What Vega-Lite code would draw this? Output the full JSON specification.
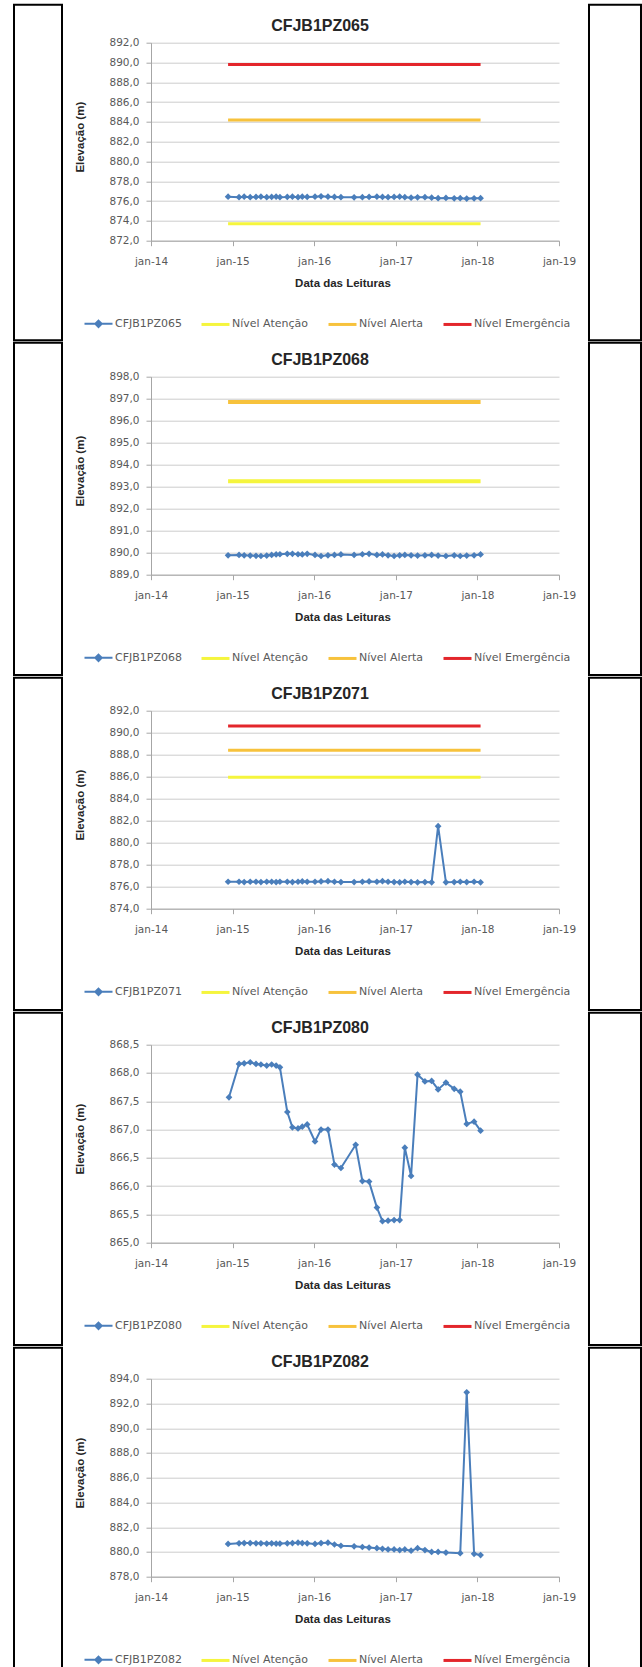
{
  "$schema": "https://vega.github.io/schema/vega-lite/v6.json",
  "background": "white",
  "padding": {"left": 13, "top": 2.7, "right": 0, "bottom": 0},
  "spacing": 11,
  "resolve": {"scale": {"color": "independent"}, "legend": {"color": "independent"}},
  "datasets": {
    "pz065": [
      {"serie":"CFJB1PZ065","data":"2014-12-12","elev":876.45},{"serie":"CFJB1PZ065","data":"2015-01-30","elev":876.40},{"serie":"CFJB1PZ065","data":"2015-02-22","elev":876.45},{"serie":"CFJB1PZ065","data":"2015-03-21","elev":876.40},{"serie":"CFJB1PZ065","data":"2015-04-16","elev":876.42},{"serie":"CFJB1PZ065","data":"2015-05-08","elev":876.45},{"serie":"CFJB1PZ065","data":"2015-06-03","elev":876.40},{"serie":"CFJB1PZ065","data":"2015-06-25","elev":876.42},{"serie":"CFJB1PZ065","data":"2015-07-15","elev":876.45},{"serie":"CFJB1PZ065","data":"2015-08-01","elev":876.40},
      {"serie":"CFJB1PZ065","data":"2015-09-03","elev":876.42},{"serie":"CFJB1PZ065","data":"2015-09-26","elev":876.45},{"serie":"CFJB1PZ065","data":"2015-10-21","elev":876.40},{"serie":"CFJB1PZ065","data":"2015-11-09","elev":876.45},{"serie":"CFJB1PZ065","data":"2015-12-01","elev":876.42},{"serie":"CFJB1PZ065","data":"2016-01-05","elev":876.45},{"serie":"CFJB1PZ065","data":"2016-02-01","elev":876.48},{"serie":"CFJB1PZ065","data":"2016-03-03","elev":876.45},{"serie":"CFJB1PZ065","data":"2016-04-01","elev":876.42},{"serie":"CFJB1PZ065","data":"2016-04-30","elev":876.40},
      {"serie":"CFJB1PZ065","data":"2016-06-28","elev":876.38},{"serie":"CFJB1PZ065","data":"2016-08-04","elev":876.40},{"serie":"CFJB1PZ065","data":"2016-09-03","elev":876.42},{"serie":"CFJB1PZ065","data":"2016-10-08","elev":876.45},{"serie":"CFJB1PZ065","data":"2016-11-02","elev":876.42},{"serie":"CFJB1PZ065","data":"2016-11-27","elev":876.40},{"serie":"CFJB1PZ065","data":"2016-12-24","elev":876.42},{"serie":"CFJB1PZ065","data":"2017-01-18","elev":876.45},{"serie":"CFJB1PZ065","data":"2017-02-10","elev":876.40},{"serie":"CFJB1PZ065","data":"2017-03-10","elev":876.35},
      {"serie":"CFJB1PZ065","data":"2017-04-08","elev":876.38},{"serie":"CFJB1PZ065","data":"2017-05-11","elev":876.40},{"serie":"CFJB1PZ065","data":"2017-06-10","elev":876.35},{"serie":"CFJB1PZ065","data":"2017-07-09","elev":876.30},{"serie":"CFJB1PZ065","data":"2017-08-13","elev":876.32},{"serie":"CFJB1PZ065","data":"2017-09-19","elev":876.28},{"serie":"CFJB1PZ065","data":"2017-10-16","elev":876.30},{"serie":"CFJB1PZ065","data":"2017-11-14","elev":876.25},{"serie":"CFJB1PZ065","data":"2017-12-17","elev":876.28},{"serie":"CFJB1PZ065","data":"2018-01-15","elev":876.30},
      {"serie":"Nível Atenção","data":"2014-12-12","elev":873.7},{"serie":"Nível Atenção","data":"2018-01-15","elev":873.7},
      {"serie":"Nível Alerta","data":"2014-12-12","elev":884.2},{"serie":"Nível Alerta","data":"2018-01-15","elev":884.2},
      {"serie":"Nível Emergência","data":"2014-12-12","elev":889.8},{"serie":"Nível Emergência","data":"2018-01-15","elev":889.8}
    ],
    "pz068": [
      {"serie":"CFJB1PZ068","data":"2014-12-12","elev":889.88},{"serie":"CFJB1PZ068","data":"2015-01-30","elev":889.90},{"serie":"CFJB1PZ068","data":"2015-02-22","elev":889.88},{"serie":"CFJB1PZ068","data":"2015-03-21","elev":889.87},{"serie":"CFJB1PZ068","data":"2015-04-16","elev":889.86},{"serie":"CFJB1PZ068","data":"2015-05-08","elev":889.85},{"serie":"CFJB1PZ068","data":"2015-06-03","elev":889.87},{"serie":"CFJB1PZ068","data":"2015-06-25","elev":889.90},{"serie":"CFJB1PZ068","data":"2015-07-15","elev":889.92},{"serie":"CFJB1PZ068","data":"2015-08-01","elev":889.93},
      {"serie":"CFJB1PZ068","data":"2015-09-03","elev":889.95},{"serie":"CFJB1PZ068","data":"2015-09-26","elev":889.95},{"serie":"CFJB1PZ068","data":"2015-10-21","elev":889.93},{"serie":"CFJB1PZ068","data":"2015-11-09","elev":889.92},{"serie":"CFJB1PZ068","data":"2015-12-01","elev":889.95},{"serie":"CFJB1PZ068","data":"2016-01-05","elev":889.90},{"serie":"CFJB1PZ068","data":"2016-02-01","elev":889.85},{"serie":"CFJB1PZ068","data":"2016-03-03","elev":889.88},{"serie":"CFJB1PZ068","data":"2016-04-01","elev":889.90},{"serie":"CFJB1PZ068","data":"2016-04-30","elev":889.92},
      {"serie":"CFJB1PZ068","data":"2016-06-28","elev":889.90},{"serie":"CFJB1PZ068","data":"2016-08-04","elev":889.93},{"serie":"CFJB1PZ068","data":"2016-09-03","elev":889.95},{"serie":"CFJB1PZ068","data":"2016-10-08","elev":889.90},{"serie":"CFJB1PZ068","data":"2016-11-02","elev":889.92},{"serie":"CFJB1PZ068","data":"2016-11-27","elev":889.88},{"serie":"CFJB1PZ068","data":"2016-12-24","elev":889.85},{"serie":"CFJB1PZ068","data":"2017-01-18","elev":889.88},{"serie":"CFJB1PZ068","data":"2017-02-10","elev":889.90},{"serie":"CFJB1PZ068","data":"2017-03-10","elev":889.88},
      {"serie":"CFJB1PZ068","data":"2017-04-08","elev":889.87},{"serie":"CFJB1PZ068","data":"2017-05-11","elev":889.88},{"serie":"CFJB1PZ068","data":"2017-06-10","elev":889.90},{"serie":"CFJB1PZ068","data":"2017-07-09","elev":889.87},{"serie":"CFJB1PZ068","data":"2017-08-13","elev":889.85},{"serie":"CFJB1PZ068","data":"2017-09-19","elev":889.88},{"serie":"CFJB1PZ068","data":"2017-10-16","elev":889.85},{"serie":"CFJB1PZ068","data":"2017-11-14","elev":889.87},{"serie":"CFJB1PZ068","data":"2017-12-17","elev":889.88},{"serie":"CFJB1PZ068","data":"2018-01-15","elev":889.92},
      {"serie":"Nível Atenção","data":"2014-12-12","elev":893.25},{"serie":"Nível Atenção","data":"2018-01-15","elev":893.25},
      {"serie":"Nível Alerta","data":"2014-12-12","elev":896.85},{"serie":"Nível Alerta","data":"2018-01-15","elev":896.85}
    ],
    "pz071": [
      {"serie":"CFJB1PZ071","data":"2014-12-12","elev":876.45},{"serie":"CFJB1PZ071","data":"2015-01-30","elev":876.45},{"serie":"CFJB1PZ071","data":"2015-02-22","elev":876.42},{"serie":"CFJB1PZ071","data":"2015-03-21","elev":876.45},{"serie":"CFJB1PZ071","data":"2015-04-16","elev":876.45},{"serie":"CFJB1PZ071","data":"2015-05-08","elev":876.42},{"serie":"CFJB1PZ071","data":"2015-06-03","elev":876.45},{"serie":"CFJB1PZ071","data":"2015-06-25","elev":876.45},{"serie":"CFJB1PZ071","data":"2015-07-15","elev":876.42},{"serie":"CFJB1PZ071","data":"2015-08-01","elev":876.45},
      {"serie":"CFJB1PZ071","data":"2015-09-03","elev":876.45},{"serie":"CFJB1PZ071","data":"2015-09-26","elev":876.42},{"serie":"CFJB1PZ071","data":"2015-10-21","elev":876.45},{"serie":"CFJB1PZ071","data":"2015-11-09","elev":876.48},{"serie":"CFJB1PZ071","data":"2015-12-01","elev":876.45},{"serie":"CFJB1PZ071","data":"2016-01-05","elev":876.45},{"serie":"CFJB1PZ071","data":"2016-02-01","elev":876.48},{"serie":"CFJB1PZ071","data":"2016-03-03","elev":876.50},{"serie":"CFJB1PZ071","data":"2016-04-01","elev":876.45},{"serie":"CFJB1PZ071","data":"2016-04-30","elev":876.42},
      {"serie":"CFJB1PZ071","data":"2016-06-28","elev":876.42},{"serie":"CFJB1PZ071","data":"2016-08-04","elev":876.45},{"serie":"CFJB1PZ071","data":"2016-09-03","elev":876.48},{"serie":"CFJB1PZ071","data":"2016-10-08","elev":876.45},{"serie":"CFJB1PZ071","data":"2016-11-02","elev":876.50},{"serie":"CFJB1PZ071","data":"2016-11-27","elev":876.45},{"serie":"CFJB1PZ071","data":"2016-12-24","elev":876.42},{"serie":"CFJB1PZ071","data":"2017-01-18","elev":876.40},{"serie":"CFJB1PZ071","data":"2017-02-10","elev":876.45},{"serie":"CFJB1PZ071","data":"2017-03-10","elev":876.42},
      {"serie":"CFJB1PZ071","data":"2017-04-08","elev":876.40},{"serie":"CFJB1PZ071","data":"2017-05-11","elev":876.42},{"serie":"CFJB1PZ071","data":"2017-06-10","elev":876.40},{"serie":"CFJB1PZ071","data":"2017-07-09","elev":881.50},{"serie":"CFJB1PZ071","data":"2017-08-13","elev":876.40},{"serie":"CFJB1PZ071","data":"2017-09-19","elev":876.42},{"serie":"CFJB1PZ071","data":"2017-10-16","elev":876.45},{"serie":"CFJB1PZ071","data":"2017-11-14","elev":876.42},{"serie":"CFJB1PZ071","data":"2017-12-17","elev":876.45},{"serie":"CFJB1PZ071","data":"2018-01-15","elev":876.40},
      {"serie":"Nível Atenção","data":"2014-12-12","elev":885.95},{"serie":"Nível Atenção","data":"2018-01-15","elev":885.95},
      {"serie":"Nível Alerta","data":"2014-12-12","elev":888.4},{"serie":"Nível Alerta","data":"2018-01-15","elev":888.4},
      {"serie":"Nível Emergência","data":"2014-12-12","elev":890.6},{"serie":"Nível Emergência","data":"2018-01-15","elev":890.6}
    ],
    "pz080": [
      {"serie":"CFJB1PZ080","data":"2014-12-16","elev":867.57},{"serie":"CFJB1PZ080","data":"2015-01-30","elev":868.16},{"serie":"CFJB1PZ080","data":"2015-02-22","elev":868.17},{"serie":"CFJB1PZ080","data":"2015-03-21","elev":868.19},{"serie":"CFJB1PZ080","data":"2015-04-16","elev":868.16},{"serie":"CFJB1PZ080","data":"2015-05-08","elev":868.15},{"serie":"CFJB1PZ080","data":"2015-06-03","elev":868.13},{"serie":"CFJB1PZ080","data":"2015-06-25","elev":868.15},{"serie":"CFJB1PZ080","data":"2015-07-15","elev":868.13},{"serie":"CFJB1PZ080","data":"2015-08-01","elev":868.10},
      {"serie":"CFJB1PZ080","data":"2015-09-03","elev":867.31},{"serie":"CFJB1PZ080","data":"2015-09-26","elev":867.04},{"serie":"CFJB1PZ080","data":"2015-10-21","elev":867.02},{"serie":"CFJB1PZ080","data":"2015-11-09","elev":867.05},{"serie":"CFJB1PZ080","data":"2015-12-01","elev":867.09},{"serie":"CFJB1PZ080","data":"2016-01-05","elev":866.79},{"serie":"CFJB1PZ080","data":"2016-02-01","elev":867.00},{"serie":"CFJB1PZ080","data":"2016-03-03","elev":867.00},{"serie":"CFJB1PZ080","data":"2016-04-01","elev":866.38},{"serie":"CFJB1PZ080","data":"2016-04-30","elev":866.32},
      {"serie":"CFJB1PZ080","data":"2016-07-05","elev":866.73},{"serie":"CFJB1PZ080","data":"2016-08-04","elev":866.09},{"serie":"CFJB1PZ080","data":"2016-09-03","elev":866.08},{"serie":"CFJB1PZ080","data":"2016-10-08","elev":865.62},{"serie":"CFJB1PZ080","data":"2016-11-02","elev":865.38},{"serie":"CFJB1PZ080","data":"2016-11-27","elev":865.39},{"serie":"CFJB1PZ080","data":"2016-12-24","elev":865.40},{"serie":"CFJB1PZ080","data":"2017-01-18","elev":865.40},{"serie":"CFJB1PZ080","data":"2017-02-10","elev":866.68},{"serie":"CFJB1PZ080","data":"2017-03-10","elev":866.18},
      {"serie":"CFJB1PZ080","data":"2017-04-08","elev":867.97},{"serie":"CFJB1PZ080","data":"2017-05-11","elev":867.85},{"serie":"CFJB1PZ080","data":"2017-06-10","elev":867.86},{"serie":"CFJB1PZ080","data":"2017-07-09","elev":867.71},{"serie":"CFJB1PZ080","data":"2017-08-13","elev":867.83},{"serie":"CFJB1PZ080","data":"2017-09-19","elev":867.72},{"serie":"CFJB1PZ080","data":"2017-10-16","elev":867.67},{"serie":"CFJB1PZ080","data":"2017-11-14","elev":867.10},{"serie":"CFJB1PZ080","data":"2017-12-17","elev":867.14},{"serie":"CFJB1PZ080","data":"2018-01-15","elev":866.98}
    ],
    "pz082": [
      {"serie":"CFJB1PZ082","data":"2014-12-12","elev":880.65},{"serie":"CFJB1PZ082","data":"2015-01-30","elev":880.70},{"serie":"CFJB1PZ082","data":"2015-02-22","elev":880.72},{"serie":"CFJB1PZ082","data":"2015-03-21","elev":880.72},{"serie":"CFJB1PZ082","data":"2015-04-16","elev":880.70},{"serie":"CFJB1PZ082","data":"2015-05-08","elev":880.70},{"serie":"CFJB1PZ082","data":"2015-06-03","elev":880.68},{"serie":"CFJB1PZ082","data":"2015-06-25","elev":880.70},{"serie":"CFJB1PZ082","data":"2015-07-15","elev":880.68},{"serie":"CFJB1PZ082","data":"2015-08-01","elev":880.68},
      {"serie":"CFJB1PZ082","data":"2015-09-03","elev":880.70},{"serie":"CFJB1PZ082","data":"2015-09-26","elev":880.72},{"serie":"CFJB1PZ082","data":"2015-10-21","elev":880.75},{"serie":"CFJB1PZ082","data":"2015-11-09","elev":880.72},{"serie":"CFJB1PZ082","data":"2015-12-01","elev":880.70},{"serie":"CFJB1PZ082","data":"2016-01-05","elev":880.65},{"serie":"CFJB1PZ082","data":"2016-02-01","elev":880.72},{"serie":"CFJB1PZ082","data":"2016-03-03","elev":880.75},{"serie":"CFJB1PZ082","data":"2016-04-01","elev":880.60},{"serie":"CFJB1PZ082","data":"2016-04-30","elev":880.50},
      {"serie":"CFJB1PZ082","data":"2016-06-28","elev":880.45},{"serie":"CFJB1PZ082","data":"2016-08-04","elev":880.40},{"serie":"CFJB1PZ082","data":"2016-09-03","elev":880.35},{"serie":"CFJB1PZ082","data":"2016-10-08","elev":880.30},{"serie":"CFJB1PZ082","data":"2016-11-02","elev":880.25},{"serie":"CFJB1PZ082","data":"2016-11-27","elev":880.20},{"serie":"CFJB1PZ082","data":"2016-12-24","elev":880.20},{"serie":"CFJB1PZ082","data":"2017-01-18","elev":880.15},{"serie":"CFJB1PZ082","data":"2017-02-10","elev":880.20},{"serie":"CFJB1PZ082","data":"2017-03-10","elev":880.10},
      {"serie":"CFJB1PZ082","data":"2017-04-08","elev":880.30},{"serie":"CFJB1PZ082","data":"2017-05-11","elev":880.15},{"serie":"CFJB1PZ082","data":"2017-06-10","elev":880.00},{"serie":"CFJB1PZ082","data":"2017-07-09","elev":880.00},{"serie":"CFJB1PZ082","data":"2017-08-13","elev":879.95},{"serie":"CFJB1PZ082","data":"2017-10-16","elev":879.90},{"serie":"CFJB1PZ082","data":"2017-11-14","elev":892.90},{"serie":"CFJB1PZ082","data":"2017-12-17","elev":879.85},{"serie":"CFJB1PZ082","data":"2018-01-15","elev":879.75}
    ]
  },
  "hconcat": [
    {
      "spacing": 0,
      "vconcat": [
        {"data": {"values": []}, "mark": "rect", "width": 48, "height": 1},
        {"data": {"values": []}, "mark": "rect", "width": 48, "height": 335.6, "view": {"stroke": "#000000", "strokeWidth": 2}},
        {"data": {"values": []}, "mark": "rect", "width": 48, "height": 332.4, "view": {"stroke": "#000000", "strokeWidth": 2}},
        {"data": {"values": []}, "mark": "rect", "width": 48, "height": 332.4, "view": {"stroke": "#000000", "strokeWidth": 2}},
        {"data": {"values": []}, "mark": "rect", "width": 48, "height": 332.4, "view": {"stroke": "#000000", "strokeWidth": 2}},
        {"data": {"values": []}, "mark": "rect", "width": 48, "height": 332.4, "view": {"stroke": "#000000", "strokeWidth": 2}}
      ]
    },
    {
      "spacing": 5.0,
      "resolve": {"scale": {"color": "independent"}, "legend": {"color": "independent"}},
      "vconcat": [
        {"data": {"values": []}, "mark": "rect", "width": 408, "height": 1},
        {
          "data": {"name": "pz065"},
          "width": 408, "height": 198,
          "title": {"text": ["", "CFJB1PZ065"]},
          "encoding": {
            "x": {"field": "data", "type": "temporal", "scale": {"type": "utc", "domain": [{"year": 2014, "month": 1, "date": 1, "utc": true}, {"year": 2019, "month": 1, "date": 1, "utc": true}]}, "axis": {"title": "Data das Leituras", "values": [{"year": 2014, "month": 1, "date": 1, "utc": true}, {"year": 2015, "month": 1, "date": 1, "utc": true}, {"year": 2016, "month": 1, "date": 1, "utc": true}, {"year": 2017, "month": 1, "date": 1, "utc": true}, {"year": 2018, "month": 1, "date": 1, "utc": true}, {"year": 2019, "month": 1, "date": 1, "utc": true}], "labelExpr": "'jan-' + utcFormat(datum.value, '%y')"}},
            "y": {"field": "elev", "type": "quantitative", "scale": {"domain": [872, 892], "zero": false, "nice": false}, "axis": {"title": "Elevação (m)", "values": [872, 874, 876, 878, 880, 882, 884, 886, 888, 890, 892], "labelExpr": "replace(format(datum.value, '.1f'), '.', ',')"}},
            "color": {"field": "serie", "type": "nominal", "scale": {"domain": ["CFJB1PZ065", "Nível Atenção", "Nível Alerta", "Nível Emergência"], "range": ["#4a7ebb", "#f5f53d", "#f7c23c", "#e3262b"]},
              "legend": {"encode": {"symbols": {"update": {
                "shape": {"signal": "indexof(['Nível Atenção','Nível Alerta','Nível Emergência'], datum.value) >= 0 ? 'M-1,0L1,0' : 'M-1,0L1,0M0,-0.23L0.23,0L0,0.23L-0.23,0Z'"},
                "fill": {"signal": "indexof(['Nível Atenção','Nível Alerta','Nível Emergência'], datum.value) >= 0 ? 'transparent' : '#4a7ebb'"},
                "stroke": {"signal": "datum.value == 'Nível Atenção' ? '#f5f53d' : datum.value == 'Nível Alerta' ? '#f7c23c' : datum.value == 'Nível Emergência' ? '#e3262b' : '#4a7ebb'"},
                "strokeWidth": {"signal": "indexof(['Nível Atenção','Nível Alerta','Nível Emergência'], datum.value) >= 0 ? 3 : 2"}
              }}}}}
          },
          "layer": [
            {"transform": [{"filter": "indexof(['Nível Atenção','Nível Alerta','Nível Emergência'], datum.serie) >= 0"}], "mark": {"type": "line", "strokeWidth": 3}},
            {"transform": [{"filter": "indexof(['Nível Atenção','Nível Alerta','Nível Emergência'], datum.serie) < 0"}], "mark": {"type": "line", "strokeWidth": 2, "point": {"shape": "diamond", "filled": true, "size": 45}}}
          ]
        },
        {
          "data": {"name": "pz068"},
          "width": 408, "height": 198,
          "title": {"text": ["", "CFJB1PZ068"]},
          "encoding": {
            "x": {"field": "data", "type": "temporal", "scale": {"type": "utc", "domain": [{"year": 2014, "month": 1, "date": 1, "utc": true}, {"year": 2019, "month": 1, "date": 1, "utc": true}]}, "axis": {"title": "Data das Leituras", "values": [{"year": 2014, "month": 1, "date": 1, "utc": true}, {"year": 2015, "month": 1, "date": 1, "utc": true}, {"year": 2016, "month": 1, "date": 1, "utc": true}, {"year": 2017, "month": 1, "date": 1, "utc": true}, {"year": 2018, "month": 1, "date": 1, "utc": true}, {"year": 2019, "month": 1, "date": 1, "utc": true}], "labelExpr": "'jan-' + utcFormat(datum.value, '%y')"}},
            "y": {"field": "elev", "type": "quantitative", "scale": {"domain": [889, 898], "zero": false, "nice": false}, "axis": {"title": "Elevação (m)", "values": [889, 890, 891, 892, 893, 894, 895, 896, 897, 898], "labelExpr": "replace(format(datum.value, '.1f'), '.', ',')"}},
            "color": {"field": "serie", "type": "nominal", "scale": {"domain": ["CFJB1PZ068", "Nível Atenção", "Nível Alerta", "Nível Emergência"], "range": ["#4a7ebb", "#f5f53d", "#f7c23c", "#e3262b"]},
              "legend": {"encode": {"symbols": {"update": {
                "shape": {"signal": "indexof(['Nível Atenção','Nível Alerta','Nível Emergência'], datum.value) >= 0 ? 'M-1,0L1,0' : 'M-1,0L1,0M0,-0.23L0.23,0L0,0.23L-0.23,0Z'"},
                "fill": {"signal": "indexof(['Nível Atenção','Nível Alerta','Nível Emergência'], datum.value) >= 0 ? 'transparent' : '#4a7ebb'"},
                "stroke": {"signal": "datum.value == 'Nível Atenção' ? '#f5f53d' : datum.value == 'Nível Alerta' ? '#f7c23c' : datum.value == 'Nível Emergência' ? '#e3262b' : '#4a7ebb'"},
                "strokeWidth": {"signal": "indexof(['Nível Atenção','Nível Alerta','Nível Emergência'], datum.value) >= 0 ? 3 : 2"}
              }}}}}
          },
          "layer": [
            {"transform": [{"filter": "indexof(['Nível Atenção','Nível Alerta','Nível Emergência'], datum.serie) >= 0"}], "mark": {"type": "line", "strokeWidth": 4}},
            {"transform": [{"filter": "indexof(['Nível Atenção','Nível Alerta','Nível Emergência'], datum.serie) < 0"}], "mark": {"type": "line", "strokeWidth": 2, "point": {"shape": "diamond", "filled": true, "size": 45}}}
          ]
        },
        {
          "data": {"name": "pz071"},
          "width": 408, "height": 198,
          "title": {"text": ["", "CFJB1PZ071"]},
          "encoding": {
            "x": {"field": "data", "type": "temporal", "scale": {"type": "utc", "domain": [{"year": 2014, "month": 1, "date": 1, "utc": true}, {"year": 2019, "month": 1, "date": 1, "utc": true}]}, "axis": {"title": "Data das Leituras", "values": [{"year": 2014, "month": 1, "date": 1, "utc": true}, {"year": 2015, "month": 1, "date": 1, "utc": true}, {"year": 2016, "month": 1, "date": 1, "utc": true}, {"year": 2017, "month": 1, "date": 1, "utc": true}, {"year": 2018, "month": 1, "date": 1, "utc": true}, {"year": 2019, "month": 1, "date": 1, "utc": true}], "labelExpr": "'jan-' + utcFormat(datum.value, '%y')"}},
            "y": {"field": "elev", "type": "quantitative", "scale": {"domain": [874, 892], "zero": false, "nice": false}, "axis": {"title": "Elevação (m)", "values": [874, 876, 878, 880, 882, 884, 886, 888, 890, 892], "labelExpr": "replace(format(datum.value, '.1f'), '.', ',')"}},
            "color": {"field": "serie", "type": "nominal", "scale": {"domain": ["CFJB1PZ071", "Nível Atenção", "Nível Alerta", "Nível Emergência"], "range": ["#4a7ebb", "#f5f53d", "#f7c23c", "#e3262b"]},
              "legend": {"encode": {"symbols": {"update": {
                "shape": {"signal": "indexof(['Nível Atenção','Nível Alerta','Nível Emergência'], datum.value) >= 0 ? 'M-1,0L1,0' : 'M-1,0L1,0M0,-0.23L0.23,0L0,0.23L-0.23,0Z'"},
                "fill": {"signal": "indexof(['Nível Atenção','Nível Alerta','Nível Emergência'], datum.value) >= 0 ? 'transparent' : '#4a7ebb'"},
                "stroke": {"signal": "datum.value == 'Nível Atenção' ? '#f5f53d' : datum.value == 'Nível Alerta' ? '#f7c23c' : datum.value == 'Nível Emergência' ? '#e3262b' : '#4a7ebb'"},
                "strokeWidth": {"signal": "indexof(['Nível Atenção','Nível Alerta','Nível Emergência'], datum.value) >= 0 ? 3 : 2"}
              }}}}}
          },
          "layer": [
            {"transform": [{"filter": "indexof(['Nível Atenção','Nível Alerta','Nível Emergência'], datum.serie) >= 0"}], "mark": {"type": "line", "strokeWidth": 3}},
            {"transform": [{"filter": "indexof(['Nível Atenção','Nível Alerta','Nível Emergência'], datum.serie) < 0"}], "mark": {"type": "line", "strokeWidth": 2, "point": {"shape": "diamond", "filled": true, "size": 45}}}
          ]
        },
        {
          "data": {"name": "pz080"},
          "width": 408, "height": 198,
          "title": {"text": ["", "CFJB1PZ080"]},
          "encoding": {
            "x": {"field": "data", "type": "temporal", "scale": {"type": "utc", "domain": [{"year": 2014, "month": 1, "date": 1, "utc": true}, {"year": 2019, "month": 1, "date": 1, "utc": true}]}, "axis": {"title": "Data das Leituras", "values": [{"year": 2014, "month": 1, "date": 1, "utc": true}, {"year": 2015, "month": 1, "date": 1, "utc": true}, {"year": 2016, "month": 1, "date": 1, "utc": true}, {"year": 2017, "month": 1, "date": 1, "utc": true}, {"year": 2018, "month": 1, "date": 1, "utc": true}, {"year": 2019, "month": 1, "date": 1, "utc": true}], "labelExpr": "'jan-' + utcFormat(datum.value, '%y')"}},
            "y": {"field": "elev", "type": "quantitative", "scale": {"domain": [865, 868.5], "zero": false, "nice": false}, "axis": {"title": "Elevação (m)", "values": [865, 865.5, 866, 866.5, 867, 867.5, 868, 868.5], "labelExpr": "replace(format(datum.value, '.1f'), '.', ',')"}},
            "color": {"field": "serie", "type": "nominal", "scale": {"domain": ["CFJB1PZ080", "Nível Atenção", "Nível Alerta", "Nível Emergência"], "range": ["#4a7ebb", "#f5f53d", "#f7c23c", "#e3262b"]},
              "legend": {"encode": {"symbols": {"update": {
                "shape": {"signal": "indexof(['Nível Atenção','Nível Alerta','Nível Emergência'], datum.value) >= 0 ? 'M-1,0L1,0' : 'M-1,0L1,0M0,-0.23L0.23,0L0,0.23L-0.23,0Z'"},
                "fill": {"signal": "indexof(['Nível Atenção','Nível Alerta','Nível Emergência'], datum.value) >= 0 ? 'transparent' : '#4a7ebb'"},
                "stroke": {"signal": "datum.value == 'Nível Atenção' ? '#f5f53d' : datum.value == 'Nível Alerta' ? '#f7c23c' : datum.value == 'Nível Emergência' ? '#e3262b' : '#4a7ebb'"},
                "strokeWidth": {"signal": "indexof(['Nível Atenção','Nível Alerta','Nível Emergência'], datum.value) >= 0 ? 3 : 2"}
              }}}}}
          },
          "layer": [
            {"mark": {"type": "line", "strokeWidth": 2, "point": {"shape": "diamond", "filled": true, "size": 45}}}
          ]
        },
        {
          "data": {"name": "pz082"},
          "width": 408, "height": 198,
          "title": {"text": ["", "CFJB1PZ082"]},
          "encoding": {
            "x": {"field": "data", "type": "temporal", "scale": {"type": "utc", "domain": [{"year": 2014, "month": 1, "date": 1, "utc": true}, {"year": 2019, "month": 1, "date": 1, "utc": true}]}, "axis": {"title": "Data das Leituras", "values": [{"year": 2014, "month": 1, "date": 1, "utc": true}, {"year": 2015, "month": 1, "date": 1, "utc": true}, {"year": 2016, "month": 1, "date": 1, "utc": true}, {"year": 2017, "month": 1, "date": 1, "utc": true}, {"year": 2018, "month": 1, "date": 1, "utc": true}, {"year": 2019, "month": 1, "date": 1, "utc": true}], "labelExpr": "'jan-' + utcFormat(datum.value, '%y')"}},
            "y": {"field": "elev", "type": "quantitative", "scale": {"domain": [878, 894], "zero": false, "nice": false}, "axis": {"title": "Elevação (m)", "values": [878, 880, 882, 884, 886, 888, 890, 892, 894], "labelExpr": "replace(format(datum.value, '.1f'), '.', ',')"}},
            "color": {"field": "serie", "type": "nominal", "scale": {"domain": ["CFJB1PZ082", "Nível Atenção", "Nível Alerta", "Nível Emergência"], "range": ["#4a7ebb", "#f5f53d", "#f7c23c", "#e3262b"]},
              "legend": {"encode": {"symbols": {"update": {
                "shape": {"signal": "indexof(['Nível Atenção','Nível Alerta','Nível Emergência'], datum.value) >= 0 ? 'M-1,0L1,0' : 'M-1,0L1,0M0,-0.23L0.23,0L0,0.23L-0.23,0Z'"},
                "fill": {"signal": "indexof(['Nível Atenção','Nível Alerta','Nível Emergência'], datum.value) >= 0 ? 'transparent' : '#4a7ebb'"},
                "stroke": {"signal": "datum.value == 'Nível Atenção' ? '#f5f53d' : datum.value == 'Nível Alerta' ? '#f7c23c' : datum.value == 'Nível Emergência' ? '#e3262b' : '#4a7ebb'"},
                "strokeWidth": {"signal": "indexof(['Nível Atenção','Nível Alerta','Nível Emergência'], datum.value) >= 0 ? 3 : 2"}
              }}}}}
          },
          "layer": [
            {"mark": {"type": "line", "strokeWidth": 2, "point": {"shape": "diamond", "filled": true, "size": 45}}}
          ]
        }
      ]
    },
    {
      "spacing": 0,
      "vconcat": [
        {"data": {"values": []}, "mark": "rect", "width": 52, "height": 1},
        {"data": {"values": []}, "mark": "rect", "width": 52, "height": 335.6, "view": {"stroke": "#000000", "strokeWidth": 2}},
        {"data": {"values": []}, "mark": "rect", "width": 52, "height": 332.4, "view": {"stroke": "#000000", "strokeWidth": 2}},
        {"data": {"values": []}, "mark": "rect", "width": 52, "height": 332.4, "view": {"stroke": "#000000", "strokeWidth": 2}},
        {"data": {"values": []}, "mark": "rect", "width": 52, "height": 332.4, "view": {"stroke": "#000000", "strokeWidth": 2}},
        {"data": {"values": []}, "mark": "rect", "width": 52, "height": 332.4, "view": {"stroke": "#000000", "strokeWidth": 2}}
      ]
    }
  ],
  "config": {
    "view": {"stroke": null},
    "font": "Liberation Sans",
    "axis": {
      "labelFont": "DejaVu Sans", "labelFontSize": 10.5, "labelColor": "#595959",
      "titleFont": "Liberation Sans", "titleFontSize": 11.5, "titleFontWeight": "bold", "titleColor": "#262626",
      "domainColor": "#a6a6a6", "tickColor": "#a6a6a6", "tickSize": 5, "gridColor": "#cccccc", "labelFlush": false, "labelOverlap": false
    },
    "axisX": {"grid": false, "labelPadding": 10.5, "titleX": 191.5, "titleY": 43, "titleBaseline": "middle"},
    "axisY": {"grid": true, "labelPadding": 7, "titleX": -71, "titleY": 94, "titleAngle": -90, "titleBaseline": "middle", "titleAlign": "center"},
    "legend": {
      "orient": "none", "legendX": -64, "legendY": 269.5, "padding": 6, "direction": "horizontal", "columns": 4, "title": null,
      "labelFont": "DejaVu Sans", "labelFontSize": 11, "labelColor": "#595959", "labelOffset": 11,
      "symbolSize": 784, "columnPadding": 13
    },
    "title": {"font": "Liberation Sans", "fontSize": 16, "fontWeight": "bold", "color": "#262626", "anchor": "middle", "frame": "group", "dx": -35, "baseline": "bottom", "offset": 4, "lineHeight": 9}
  }
}
